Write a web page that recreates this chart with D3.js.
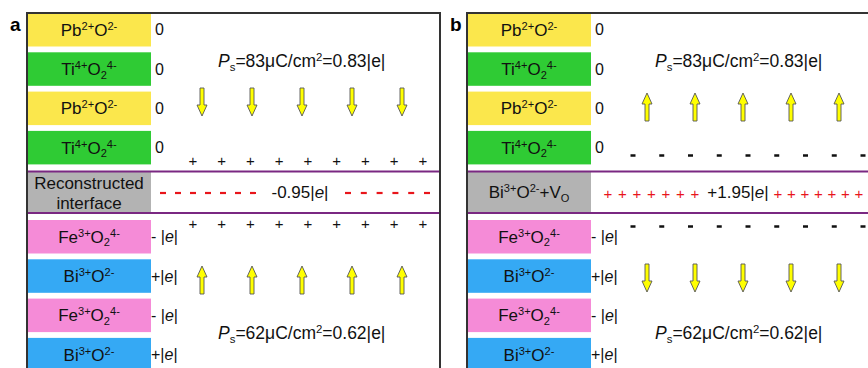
<!DOCTYPE html>
<html><head><meta charset="utf-8">
<script src="https://cdn.jsdelivr.net/npm/d3@7"></script>
<style>body{margin:0;background:#fff}svg{display:block}text{font-family:"Liberation Sans",Arial,sans-serif}</style>
</head><body><svg id="c" width="868" height="368"></svg>
<script>
// ---- data ----
const panels = ["a", "b"];
const topLayers = ["Pb^{2+}O^{2-}", "Ti^{4+}O_{2}^{4-}", "Pb^{2+}O^{2-}", "Ti^{4+}O_{2}^{4-}"];
const topKinds = ["Pb", "Ti", "Pb", "Ti"];
const topCharges = ["0", "0", "0", "0"];
const bottomLayers = ["Fe^{3+}O_{2}^{4-}", "Bi^{3+}O^{2-}", "Fe^{3+}O_{2}^{4-}", "Bi^{3+}O^{2-}"];
const bottomKinds = ["Fe", "Bi", "Fe", "Bi"];
const bottomCharges = ["- |*e*|", "+|*e*|", "- |*e*|", "+|*e*|"];
const interfaceLabels = [["Reconstructed", "interface"], ["Bi^{3+}O^{2-}+V_{O}"]];
const interfaceCharge = ["-0.95|*e*|", "+1.95|*e*|"];
const interfaceSign = ["dash", "plus"];
const interfaceLeftCount = [7, 7];
const interfaceRightCount = [6, 7];
const topPs = "*P*_{s}=83μC/cm^{2}=0.83|e|";
const bottomPs = "*P*_{s}=62μC/cm^{2}=0.62|e|";
const topArrowDir = ["down", "up"];
const bottomArrowDir = ["up", "down"];
const arrowIdx = [0, 1, 2, 3, 4];
const signIdx = [0, 1, 2, 3, 4, 5, 6, 7, 8];
const boundarySign = ["+", "-"];
const colors = {Pb: "#FBE74C", Ti: "#2FCB34", Fe: "#F58BD7", Bi: "#35A9F4", grey: "#B3B3B3", purple: "#7A2882"};

// ---- helpers ----
function rich(sel, str, size) {
  sel.attr("font-size", size);
  const re = /\^\{([^}]*)\}|_\{([^}]*)\}|\*([^*]*)\*|([^^_*]+)/g;
  let m, off = 0;
  while ((m = re.exec(str)) !== null) {
    let t, dy = 0, fs = size, it = false;
    if (m[1] !== undefined) { t = m[1]; fs = size * 0.65; dy = -size * 0.36; }
    else if (m[2] !== undefined) { t = m[2]; fs = size * 0.65; dy = size * 0.22; }
    else if (m[3] !== undefined) { t = m[3]; it = true; }
    else t = m[4];
    sel.append("tspan").attr("dy", (dy - off).toFixed(2)).attr("font-size", fs)
      .attr("font-style", it ? "italic" : null).text(t);
    off = dy;
  }
}

const svg = d3.select("#c");
const panelX = d3.scaleOrdinal().domain(panels).range([27, 467]);
const panelW = 413;
const rowTopY = d3.scaleLinear().domain([0, 1]).range([13, 52.3]);
const rowBotY = d3.scaleLinear().domain([0, 1]).range([220, 259.3]);
const rowH = 33.5;
const boxW = 124;
const ifTop = 171.5, ifBot = 213;

panels.forEach((p, pi) => {
  const x0 = panelX(p);
  const g = svg.append("g");
  g.append("text").attr("x", x0 - 17).attr("y", 31).attr("font-size", 19).attr("font-weight", "bold").text(p);

  const drawLayers = (labels, kinds, charges, ys) => {
    labels.forEach((lab, i) => {
      const y = ys(i);
      g.append("rect").attr("x", x0).attr("y", y).attr("width", boxW).attr("height", rowH).attr("fill", colors[kinds[i]]);
      rich(g.append("text").attr("x", x0 + boxW / 2).attr("y", y + rowH / 2 + 6).attr("text-anchor", "middle").attr("fill", "#111"), lab, 17);
      rich(g.append("text").attr("x", x0 + boxW + (charges[i] === "0" ? 4 : 0)).attr("y", y + rowH / 2 + 5.5).attr("fill", "#111"), charges[i], 16);
    });
  };
  drawLayers(topLayers, topKinds, topCharges, rowTopY);
  drawLayers(bottomLayers, bottomKinds, bottomCharges, rowBotY);

  g.append("rect").attr("x", x0).attr("y", ifTop).attr("width", boxW).attr("height", ifBot - ifTop).attr("fill", colors.grey);
  g.append("rect").attr("x", x0).attr("y", ifTop).attr("width", panelW + (pi ? 20 : 0)).attr("height", ifBot - ifTop)
    .attr("fill", "none").attr("stroke", colors.purple).attr("stroke-width", 2);
  const il = interfaceLabels[pi];
  il.forEach((l, k) => {
    rich(g.append("text").attr("x", x0 + boxW / 2).attr("y", il.length === 1 ? 198 : 189 + (k * 20)).attr("text-anchor", "middle").attr("fill", "#111"), l, 17);
  });

  const cx = pi === 0 ? 300 - 27 + x0 : 738 - 467 + x0;
  rich(g.append("text").attr("x", cx).attr("y", 198).attr("text-anchor", "middle").attr("fill", "#111"), interfaceCharge[pi], 17);
  const leftR = pi === 0 ? [136, 226] : [141, 228];
  const rightR = pi === 0 ? [321, 400] : [311, 392];
  const sL = d3.scaleLinear().domain([0, interfaceLeftCount[pi] - 1]).range(leftR.map(v => v + x0));
  const sR = d3.scaleLinear().domain([0, interfaceRightCount[pi] - 1]).range(rightR.map(v => v + x0));
  const drawSign = (xs, n) => {
    d3.range(n).forEach(i => {
      if (interfaceSign[pi] === "dash") {
        g.append("line").attr("x1", xs(i) - 3).attr("x2", xs(i) + 3).attr("y1", 193).attr("y2", 193)
          .attr("stroke", "#E8151B").attr("stroke-width", 2.2);
      } else {
        g.append("text").attr("x", xs(i)).attr("y", 198.5).attr("text-anchor", "middle").attr("font-size", 15).attr("fill", "#E8151B").text("+");
      }
    });
  };
  drawSign(sL, interfaceLeftCount[pi]);
  drawSign(sR, interfaceRightCount[pi]);

  const sx = d3.scalePoint().domain(signIdx).range([x0 + 166, x0 + 396]);
  [pi === 0 ? 160.5 : 155.5, pi === 0 ? 223.5 : 226.5].forEach(yy => {
    signIdx.forEach(i => {
      if (boundarySign[pi] === "+") {
        g.append("text").attr("x", sx(i)).attr("y", yy + 5).attr("text-anchor", "middle").attr("font-size", 15).attr("fill", "#111").text("+");
      } else {
        g.append("line").attr("x1", sx(i) - 2.5).attr("x2", sx(i) + 2.5).attr("y1", yy).attr("y2", yy).attr("stroke", "#111").attr("stroke-width", 2.5);
      }
    });
  });

  const ax = d3.scalePoint().domain(arrowIdx).range(pi === 0 ? [x0 + 175, x0 + 375] : [x0 + 180, x0 + 372]);
  const arrow = (x, yTop, dir) => {
    const L = 28, hl = 11, sw = 2, hw = 5;
    let pts;
    if (dir === "down") pts = [[-sw, 0], [sw, 0], [sw, L - hl], [hw, L - hl], [0, L], [-hw, L - hl], [-sw, L - hl]];
    else pts = [[-sw, L], [sw, L], [sw, hl], [hw, hl], [0, 0], [-hw, hl], [-sw, hl]];
    g.append("path").attr("d", d3.line()(pts.map(q => [x + q[0], yTop + q[1]])) + "Z")
      .attr("fill", "#FFFF00").attr("stroke", "#555").attr("stroke-width", 0.9);
  };
  arrowIdx.forEach(i => arrow(ax(i), pi === 0 ? 88 : 93, topArrowDir[pi]));
  arrowIdx.forEach(i => arrow(ax(i), pi === 0 ? 266 : 264, bottomArrowDir[pi]));

  const psx = pi === 0 ? 218 - 27 + x0 : 655 - 467 + x0;
  rich(g.append("text").attr("x", psx).attr("y", 67).attr("fill", "#111"), topPs, 17.5);
  rich(g.append("text").attr("x", psx).attr("y", 339).attr("fill", "#111"), bottomPs, 17.5);

  g.append("path").attr("d", `M${x0},380V13H${x0 + panelW + (pi ? 20 : 0)}` + (pi ? "" : "V380"))
    .attr("fill", "none").attr("stroke", "#333").attr("stroke-width", 2);
});
</script></body></html>
